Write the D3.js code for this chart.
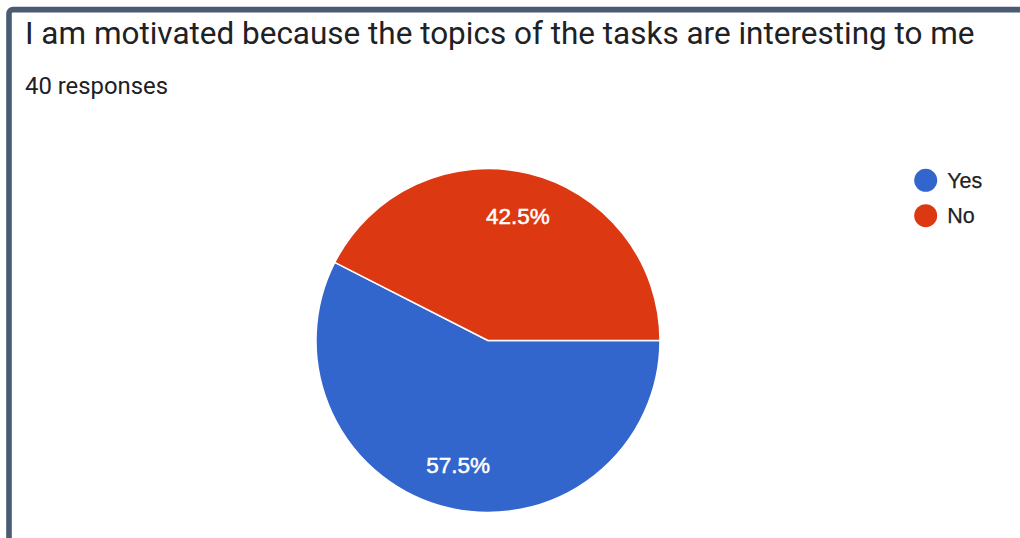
<!DOCTYPE html>
<html>
<head>
<meta charset="utf-8">
<script src="https://cdn.jsdelivr.net/npm/d3@7"></script>
<style>
  html, body { margin: 0; padding: 0; background: #fff; overflow: hidden; }
  svg { display: block; }
</style>
</head>
<body>
<svg id="chart" width="1020" height="538"></svg>
<script>
// Survey answers
const categories = ["Yes", "No"];
const responses = [23, 17];          // 57.5% / 42.5% of 40
const percentLabels = ["57.5%", "42.5%"];
const totalLabel = "40 responses";
const title = "I am motivated because the topics of the tasks are interesting to me";
const colors = ["#3366cc", "#dc3912"];

const W = 1020, H = 538;
const svg = d3.select("#chart");

// card frame (only the top-left edges are visible in the viewport)
svg.append("rect")
  .attr("x", 9).attr("y", 9.6)
  .attr("width", 1200).attr("height", 800)
  .attr("rx", 4)
  .attr("fill", "none")
  .attr("stroke", "#4b5b73")
  .attr("stroke-width", 5.6);

// title and response count
function fitText(sel, width) {
  const len = sel.node().getComputedTextLength();
  const fs = parseFloat(sel.attr("font-size"));
  sel.attr("font-size", fs * width / len);
}

const t = svg.append("text")
  .attr("x", 25).attr("y", 43.5)
  .attr("font-family", "Roboto, 'Noto Sans', sans-serif")
  .attr("font-size", 30)
  .attr("fill", "#202124")
  .text(title);
fitText(t, 950);

const r = svg.append("text")
  .attr("x", 25).attr("y", 93.5)
  .attr("font-family", "Roboto, 'Noto Sans', sans-serif")
  .attr("font-size", 18)
  .attr("fill", "#202124")
  .text(totalLabel);
fitText(r, 143);

// pie
const cx = 488, cy = 340.5, radius = 172;
const pie = d3.pie().sort(null)
  .startAngle(Math.PI / 2)
  .endAngle(Math.PI / 2 + 2 * Math.PI)
  .value(d => d);
const arcs = pie(responses);
const arc = d3.arc().innerRadius(0).outerRadius(radius);
const labelArc = d3.arc().innerRadius(128).outerRadius(128);

const g = svg.append("g").attr("transform", `translate(${cx},${cy})`);
g.selectAll("path.slice")
  .data(arcs)
  .join("path")
  .attr("class", "slice")
  .attr("d", arc)
  .attr("fill", (d, i) => colors[i])
  .attr("stroke", "#fff")
  .attr("stroke-width", 1.5)
  .attr("stroke-linejoin", "round");

g.selectAll("text.pct")
  .data(arcs)
  .join("text")
  .attr("class", "pct")
  .attr("transform", d => `translate(${labelArc.centroid(d)})`)
  .attr("text-anchor", "middle")
  .attr("dy", "0.36em")
  .attr("font-family", "Arial, 'Liberation Sans', sans-serif")
  .attr("font-size", 22.5)
  .attr("fill", "#fff")
  .attr("stroke", "#fff")
  .attr("stroke-width", 0.5)
  .text((d, i) => percentLabels[i]);

// legend
const legend = svg.append("g").attr("transform", "translate(925.7,180.3)");
const row = legend.selectAll("g")
  .data(categories)
  .join("g")
  .attr("transform", (d, i) => `translate(0,${i * 35.4})`);
row.append("circle")
  .attr("r", 11.5)
  .attr("fill", (d, i) => colors[i]);
row.append("text")
  .attr("x", 21.5).attr("y", 7.5)
  .attr("font-family", "Arial, 'Liberation Sans', sans-serif")
  .attr("font-size", 21.5)
  .attr("fill", "#222")
  .attr("stroke", "#222")
  .attr("stroke-width", 0.25)
  .text(d => d);
</script>
</body>
</html>
